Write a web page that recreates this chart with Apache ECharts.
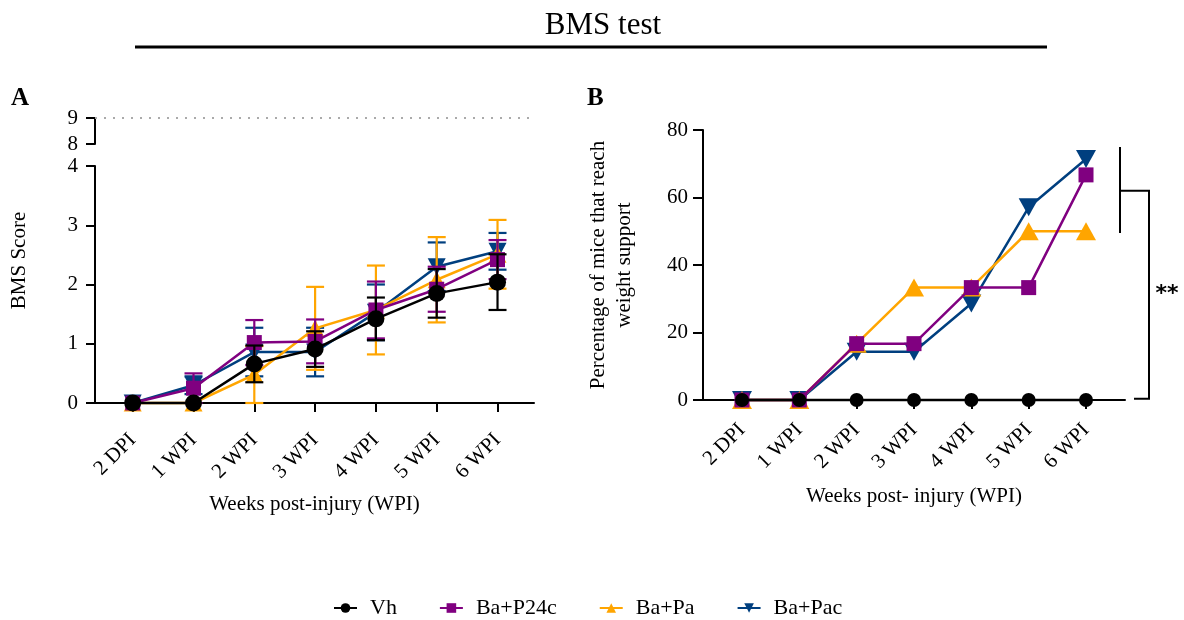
<!DOCTYPE html>
<html>
<head>
<meta charset="utf-8">
<script src="https://cdn.jsdelivr.net/npm/echarts@6/dist/echarts.min.js"></script>
<style>html,body{margin:0;padding:0;background:#fff}#c{width:1184px;height:620px}</style>
</head>
<body>
<div id="c"></div>
<script>
// ---- data ----
const categories = ['2 DPI','1 WPI','2 WPI','3 WPI','4 WPI','5 WPI','6 WPI'];
const groupNames = ['Vh','Ba+P24c','Ba+Pa','Ba+Pac'];
// Panel A: BMS score mean and error
const vhA      = [0, 0, 0.66, 0.91, 1.42, 1.85, 2.04];
const vhAErr   = [0, 0, 0.31, 0.30, 0.36, 0.41, 0.47];
const p24cA    = [0, 0.25, 1.02, 1.04, 1.57, 1.92, 2.42];
const p24cAErr = [0, 0.25, 0.38, 0.37, 0.48, 0.38, 0.33];
const paA      = [0, 0, 0.48, 1.26, 1.57, 2.08, 2.51];
const paAErr   = [0, 0, 0.48, 0.70, 0.75, 0.72, 0.58];
const pacA     = [0, 0.30, 0.86, 0.86, 1.53, 2.30, 2.56];
const pacAErr  = [0, 0.15, 0.41, 0.41, 0.47, 0.41, 0.31];
const bmsMax = 9;
// Panel B: percentage reaching weight support
const vhB   = [0, 0, 0, 0, 0, 0, 0];
const p24cB = [0, 0, 16.7, 16.7, 33.3, 33.3, 66.7];
const paB   = [0, 0, 16.7, 33.3, 33.3, 50, 50];
const pacB  = [0, 0, 14.3, 14.3, 28.6, 57.1, 71.4];

// ---- styles ----
const FONT = 'Liberation Serif';
const colors = {'Vh':'#000000','Ba+P24c':'#800080','Ba+Pa':'#FFA500','Ba+Pac':'#003F7F'};
const symbols = {'Vh':'circle','Ba+P24c':'rect','Ba+Pa':'triangle','Ba+Pac':'triangle'};
const rot = {'Vh':0,'Ba+P24c':0,'Ba+Pa':0,'Ba+Pac':180};
const sizesA = {'Vh':17,'Ba+P24c':15,'Ba+Pa':[18,17],'Ba+Pac':[18,17]};
const sizesB = {'Vh':14,'Ba+P24c':15,'Ba+Pa':[20,18],'Ba+Pac':[20,18]};
const idx = categories.map((c,i)=>i);

const chart = echarts.init(document.getElementById('c'), null, {renderer:'canvas'});

function xAxisCommon(grid, min, max, name, nameGap, labelMargin){
  return {
    gridIndex: grid, type:'value', min:min, max:max,
    axisLine:{show:true, onZero:false, lineStyle:{color:'#000', width:2}},
    axisTick:{show:true, customValues: idx, length:9, lineStyle:{color:'#000', width:2}},
    axisLabel:{show:true, customValues: idx, rotate:45, margin:labelMargin,
      formatter:v=>categories[Math.round(v)], fontFamily:FONT, fontSize:21, color:'#000'},
    splitLine:{show:false},
    name:name, nameLocation:'middle', nameGap:nameGap,
    nameTextStyle:{fontFamily:FONT, fontSize:21, color:'#000'}
  };
}
function yAxisCommon(grid, min, max, interval, labelMargin){
  return {
    gridIndex: grid, type:'value', min:min, max:max, interval:interval,
    axisLine:{show:true, onZero:false, lineStyle:{color:'#000', width:2}},
    axisTick:{show:true, length:9, lineStyle:{color:'#000', width:2}},
    axisLabel:{fontFamily:FONT, fontSize:21, color:'#000', margin:labelMargin},
    splitLine:{show:false}
  };
}

const meanA = {'Vh':vhA,'Ba+P24c':p24cA,'Ba+Pa':paA,'Ba+Pac':pacA};
const errA  = {'Vh':vhAErr,'Ba+P24c':p24cAErr,'Ba+Pa':paAErr,'Ba+Pac':pacAErr};
const meanB = {'Vh':vhB,'Ba+P24c':p24cB,'Ba+Pa':paB,'Ba+Pac':pacB};

const drawOrder = ['Ba+Pac','Ba+Pa','Ba+P24c','Vh'];
const series = [];
// dotted reference at max BMS
series.push({
  type:'line', xAxisIndex:0, yAxisIndex:0, data:[], silent:true,
  markLine:{symbol:'none', silent:true, label:{show:false},
    lineStyle:{type:[2,7], color:'#aaaaaa', width:2},
    data:[{yAxis:bmsMax}]}
});
drawOrder.forEach((g,k)=>{
  const col = colors[g];
  series.push({
    type:'custom', name:g+' err', xAxisIndex:1, yAxisIndex:1, z:2+k*2,
    data: idx.map(i=>[i, meanA[g][i], errA[g][i]]),
    encode:{x:0, y:1},
    renderItem:function(params, api){
      const x=api.value(0), y=api.value(1), e=api.value(2);
      if(!e) return null;
      const t=api.coord([x,y+e]), b=api.coord([x,y-e]);
      const hw=9, st={stroke:col, lineWidth:2.2};
      return {type:'group', children:[
        {type:'line', shape:{x1:t[0],y1:t[1],x2:b[0],y2:b[1]}, style:st},
        {type:'line', shape:{x1:t[0]-hw,y1:t[1],x2:t[0]+hw,y2:t[1]}, style:st},
        {type:'line', shape:{x1:b[0]-hw,y1:b[1],x2:b[0]+hw,y2:b[1]}, style:st}
      ]};
    }
  });
  series.push({
    type:'line', name:g, xAxisIndex:1, yAxisIndex:1, z:3+k*2,
    data: idx.map(i=>[i, meanA[g][i]]),
    symbol:symbols[g], symbolRotate:rot[g], symbolSize:sizesA[g], showAllSymbol:true,
    clip:false,
    lineStyle:{color:col, width:2.5}, itemStyle:{color:col, opacity:1},
    emphasis:{disabled:true}
  });
});
drawOrder.forEach((g,k)=>{
  const col = colors[g];
  series.push({
    type:'line', name:g, xAxisIndex:2, yAxisIndex:2, z:3+k*2,
    data: idx.map(i=>[i, meanB[g][i]]),
    symbol:symbols[g], symbolRotate:rot[g], symbolSize:sizesB[g], showAllSymbol:true,
    clip:false,
    lineStyle:{color:col, width:2.5}, itemStyle:{color:col, opacity:1},
    emphasis:{disabled:true}
  });
});

const yB = yAxisCommon(2, 0, 80, 20, 15);
yB.name = 'Percentage of mice that reach\nweight support';
yB.nameLocation = 'middle';
yB.nameGap = 66;
yB.nameTextStyle = {fontFamily:FONT, fontSize:21, color:'#000', lineHeight:26};
yB.axisTick.length = 10;

const yAU = yAxisCommon(0, 8, 9, 1, 17);
const yAL = yAxisCommon(1, 0, 4, 1, 17);

const option = {
  animation:false,
  backgroundColor:'#fff',
  grid:[
    {left:95, top:118, width:439, height:26},
    {left:95, top:166, width:439, height:237},
    {left:703, top:130, width:422, height:270}
  ],
  xAxis:[
    {gridIndex:0, type:'value', min:-0.62, max:6.6, show:false},
    xAxisCommon(1, -0.62, 6.6, 'Weeks post-injury (WPI)', 91, 34),
    xAxisCommon(2, -0.68, 6.68, 'Weeks post- injury (WPI)', 86, 27)
  ],
  yAxis:[yAU, yAL, yB],
  legend:{
    data: groupNames.map(n=>({name:n})),
    bottom: 1, left:333, padding:0, itemGap:42, itemWidth:23, itemHeight:12,
    textStyle:{fontFamily:FONT, fontSize:22, color:'#000', padding:[0,0,0,8]},
    selectedMode:false
  },
  series:series
};
chart.setOption(option);

// annotations
const yp = v => chart.convertToPixel({yAxisIndex:2}, v);
const bTop = yp(75), bBot1 = yp(49.5), bMid = yp(62), b0 = yp(0.4);
const aName = chart.convertToPixel({yAxisIndex:0}, 9);
const aNameLow = chart.convertToPixel({yAxisIndex:1}, 0);
chart.setOption({
  graphic:[
    {type:'text', style:{x:603, y:26, text:'BMS test', fontFamily:FONT, fontSize:31, fill:'#000', align:'center', verticalAlign:'middle'}},
    {type:'line', shape:{x1:135, y1:47, x2:1047, y2:47}, style:{stroke:'#000', lineWidth:3}},
    {type:'text', style:{x:11, y:99, text:'A', fontFamily:FONT, fontSize:25, fontWeight:'bold', fill:'#000', align:'left', verticalAlign:'middle'}},
    {type:'text', style:{x:587, y:99, text:'B', fontFamily:FONT, fontSize:25, fontWeight:'bold', fill:'#000', align:'left', verticalAlign:'middle'}},
    {type:'text', x:19, y:(aName+aNameLow)/2, rotation:Math.PI/2,
      style:{x:0, y:0, text:'BMS Score', fontFamily:FONT, fontSize:21, fill:'#000', align:'center', verticalAlign:'middle'}},
    {type:'line', shape:{x1:1120, y1:bTop, x2:1120, y2:bBot1}, style:{stroke:'#000', lineWidth:2}},
    {type:'polyline', shape:{points:[[1120,bMid],[1149,bMid],[1149,b0],[1134,b0]]}, style:{stroke:'#000', lineWidth:2, fill:null}},
    {type:'text', style:{x:1167, y:(bMid+b0)/2, text:'**', fontFamily:'DejaVu Sans', fontSize:22, fontWeight:'bold', fill:'#000', align:'center', verticalAlign:'middle'}}
  ]
});
</script>
</body>
</html>
